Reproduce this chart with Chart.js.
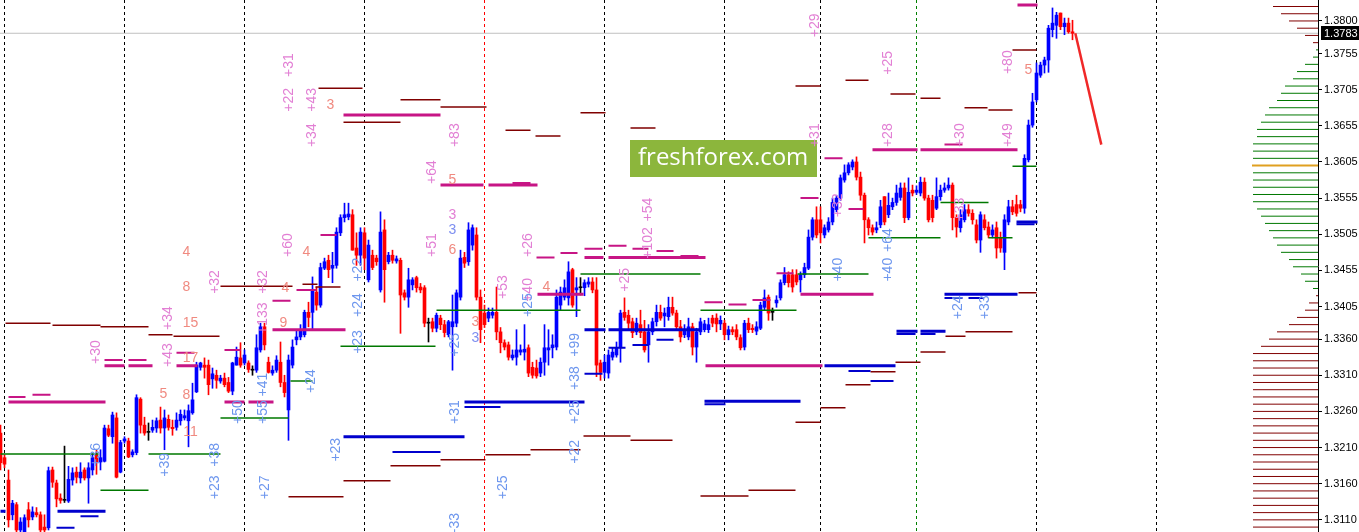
<!DOCTYPE html>
<html><head><meta charset="utf-8">
<script src="https://cdn.jsdelivr.net/npm/chart.js@4.4.1/dist/chart.umd.min.js"></script>
<style>html,body{margin:0;padding:0;background:#fff;overflow:hidden}#wrap{width:1359px;height:532px;position:relative}</style>
</head><body><div id="wrap"><canvas id="c" width="1359" height="532"></canvas></div>
<script>
// ---------- DATA ----------
const candleOpen = [
1.3230,1.3196,1.3165,1.3117,1.3131,1.3096,1.3093,1.3124,1.3114,1.3120,
1.3117,1.3100,1.3099,1.3179,1.3161,1.3140,1.3137,1.3136,1.3165,1.3176,
1.3168,1.3179,1.3168,1.3179,1.3200,1.3190,1.3191,1.3236,1.3225,1.3251,
1.3176,1.3219,1.3219,1.3200,1.3203,1.3277,1.3241,1.3231,1.3234,1.3237,
1.3248,1.3237,1.3249,1.3238,1.3238,1.3247,1.3251,1.3247,1.3258,1.3287,
1.3321,1.3324,1.3324,1.3305,1.3310,1.3302,1.3306,1.3300,1.3288,1.3324,
1.3334,1.3327,1.3327,1.3317,1.3317,1.3345,1.3377,1.3328,1.3313,1.3317,
1.3328,1.3300,1.3262,1.3324,1.3359,1.3363,1.3366,1.3397,1.3397,1.3425,
1.3407,1.3458,1.3469,1.3458,1.3462,1.3507,1.3528,1.3529,1.3532,1.3486,
1.3476,1.3507,1.3442,1.3476,1.3472,1.3428,1.3511,1.3467,1.3476,1.3468,
1.3469,1.3424,1.3418,1.3435,1.3445,1.3432,1.3431,1.3382,1.3384,1.3375,
1.3389,1.3380,1.3366,1.3377,1.3382,1.3418,1.3473,1.3467,1.3490,1.3504,
1.3418,1.3396,1.3389,1.3393,1.3397,1.3370,1.3355,1.3352,1.3334,1.3335,
1.3342,1.3342,1.3348,1.3321,1.3320,1.3313,1.3328,1.3345,1.3348,1.3349,
1.3407,1.3418,1.3417,1.3456,1.3428,1.3431,1.3431,1.3436,1.3439,1.3428,
1.3327,1.3314,1.3313,1.3335,1.3338,1.3348,1.3397,1.3393,1.3384,1.3370,
1.3380,1.3370,1.3352,1.3370,1.3384,1.3397,1.3392,1.3391,1.3404,1.3396,
1.3377,1.3366,1.3363,1.3377,1.3349,1.3370,1.3373,1.3373,1.3389,1.3389,
1.3381,1.3382,1.3366,1.3373,1.3373,1.3362,1.3349,1.3382,1.3375,1.3371,
1.3375,1.3404,1.3418,1.3397,1.3410,1.3417,1.3438,1.3449,1.3449,1.3449,
1.3442,1.3449,1.3458,1.3501,1.3525,1.3525,1.3504,1.3511,1.3522,1.3539,
1.3555,1.3580,1.3590,1.3598,1.3605,1.3584,1.3559,1.3525,1.3514,1.3511,
1.3518,1.3557,1.3532,1.3543,1.3549,1.3556,1.3569,1.3528,1.3566,1.3563,
1.3562,1.3577,1.3555,1.3552,1.3541,1.3557,1.3566,1.3569,1.3573,1.3528,
1.3514,1.3525,1.3539,1.3534,1.3518,1.3497,1.3525,1.3515,1.3504,1.3514,
1.3500,1.3480,1.3522,1.3543,1.3546,1.3546,1.3541,1.3608,1.3656,1.3691,
1.3725,1.3739,1.3746,1.3788,1.3794,1.3811,1.3792,1.3797,1.3785];
const candleHigh = [
1.3241,1.3200,1.3179,1.3137,1.3134,1.3113,1.3117,1.3134,1.3128,1.3127,
1.3121,1.3117,1.3183,1.3183,1.3165,1.3146,1.3212,1.3184,1.3182,1.3183,
1.3189,1.3182,1.3189,1.3201,1.3207,1.3207,1.3241,1.3241,1.3259,1.3258,
1.3220,1.3225,1.3223,1.3207,1.3283,1.3279,1.3252,1.3244,1.3248,1.3251,
1.3266,1.3262,1.3255,1.3248,1.3258,1.3262,1.3262,1.3269,1.3299,1.3328,
1.3328,1.3334,1.3331,1.3320,1.3317,1.3310,1.3313,1.3307,1.3328,1.3349,
1.3355,1.3345,1.3330,1.3323,1.3366,1.3382,1.3382,1.3335,1.3323,1.3337,
1.3356,1.3310,1.3338,1.3359,1.3373,1.3380,1.3400,1.3411,1.3446,1.3432,
1.3465,1.3472,1.3476,1.3480,1.3514,1.3532,1.3548,1.3548,1.3539,1.3507,
1.3514,1.3514,1.3497,1.3483,1.3476,1.3536,1.3525,1.3480,1.3483,1.3475,
1.3472,1.3428,1.3458,1.3445,1.3447,1.3437,1.3434,1.3389,1.3389,1.3396,
1.3393,1.3386,1.3386,1.3421,1.3428,1.3483,1.3480,1.3521,1.3518,1.3514,
1.3428,1.3407,1.3403,1.3403,1.3432,1.3376,1.3359,1.3356,1.3345,1.3373,
1.3352,1.3380,1.3352,1.3328,1.3331,1.3334,1.3380,1.3373,1.3366,1.3428,
1.3432,1.3442,1.3467,1.3458,1.3445,1.3445,1.3442,1.3445,1.3445,1.3445,
1.3331,1.3338,1.3345,1.3348,1.3356,1.3400,1.3417,1.3400,1.3389,1.3389,
1.3400,1.3386,1.3380,1.3389,1.3407,1.3407,1.3403,1.3418,1.3418,1.3400,
1.3386,1.3380,1.3389,1.3382,1.3375,1.3389,1.3386,1.3389,1.3393,1.3395,
1.3392,1.3386,1.3378,1.3377,1.3380,1.3366,1.3386,1.3389,1.3380,1.3384,
1.3411,1.3428,1.3421,1.3403,1.3420,1.3442,1.3459,1.3453,1.3456,1.3456,
1.3453,1.3465,1.3511,1.3528,1.3543,1.3543,1.3518,1.3528,1.3555,1.3559,
1.3587,1.3601,1.3604,1.3608,1.3612,1.3591,1.3562,1.3528,1.3518,1.3522,
1.3552,1.3557,1.3562,1.3555,1.3573,1.3576,1.3576,1.3583,1.3573,1.3572,
1.3584,1.3583,1.3559,1.3559,1.3583,1.3573,1.3576,1.3583,1.3576,1.3532,
1.3539,1.3546,1.3546,1.3539,1.3525,1.3536,1.3532,1.3522,1.3518,1.3522,
1.3508,1.3532,1.3552,1.3552,1.3559,1.3552,1.3615,1.3663,1.3700,1.3742,
1.3743,1.3750,1.3794,1.3818,1.3812,1.3811,1.3804,1.3804,1.3801];
const candleLow = [
1.3179,1.3182,1.3100,1.3110,1.3093,1.3093,1.3093,1.3100,1.3110,1.3114,
1.3093,1.3093,1.3096,1.3155,1.3128,1.3133,1.3134,1.3134,1.3158,1.3161,
1.3161,1.3165,1.3133,1.3172,1.3173,1.3179,1.3190,1.3225,1.3216,1.3168,
1.3175,1.3216,1.3196,1.3197,1.3200,1.3230,1.3227,1.3220,1.3231,1.3231,
1.3230,1.3207,1.3234,1.3227,1.3234,1.3241,1.3248,1.3211,1.3256,1.3286,
1.3317,1.3306,1.3283,1.3292,1.3292,1.3299,1.3294,1.3286,1.3283,1.3324,
1.3321,1.3324,1.3314,1.3310,1.3314,1.3342,1.3345,1.3313,1.3310,1.3314,
1.3294,1.3280,1.3220,1.3320,1.3352,1.3359,1.3363,1.3377,1.3373,1.3400,
1.3404,1.3456,1.3445,1.3438,1.3458,1.3503,1.3522,1.3525,1.3483,1.3462,
1.3462,1.3456,1.3439,1.3456,1.3462,1.3425,1.3411,1.3464,1.3465,1.3465,
1.3368,1.3414,1.3404,1.3428,1.3425,1.3424,1.3377,1.3356,1.3370,1.3370,
1.3373,1.3363,1.3363,1.3317,1.3377,1.3414,1.3459,1.3462,1.3483,1.3414,
1.3355,1.3376,1.3384,1.3389,1.3359,1.3341,1.3345,1.3331,1.3331,1.3324,
1.3338,1.3331,1.3308,1.3306,1.3306,1.3308,1.3310,1.3324,1.3334,1.3345,
1.3400,1.3414,1.3407,1.3404,1.3391,1.3421,1.3420,1.3432,1.3424,1.3308,
1.3303,1.3306,1.3306,1.3331,1.3335,1.3328,1.3386,1.3373,1.3362,1.3366,
1.3362,1.3342,1.3328,1.3366,1.3378,1.3386,1.3377,1.3386,1.3393,1.3373,
1.3356,1.3362,1.3359,1.3338,1.3328,1.3366,1.3370,1.3369,1.3377,1.3370,
1.3373,1.3359,1.3359,1.3366,1.3359,1.3345,1.3345,1.3369,1.3369,1.3366,
1.3373,1.3400,1.3386,1.3386,1.3404,1.3414,1.3435,1.3432,1.3425,1.3435,
1.3425,1.3445,1.3456,1.3497,1.3500,1.3493,1.3500,1.3508,1.3518,1.3536,
1.3552,1.3577,1.3587,1.3594,1.3580,1.3552,1.3493,1.3504,1.3504,1.3507,
1.3514,1.3518,1.3528,1.3539,1.3545,1.3552,1.3521,1.3525,1.3558,1.3560,
1.3558,1.3552,1.3522,1.3522,1.3539,1.3552,1.3563,1.3566,1.3511,1.3501,
1.3508,1.3522,1.3530,1.3519,1.3493,1.3480,1.3511,1.3500,1.3500,1.3472,
1.3480,1.3456,1.3518,1.3532,1.3530,1.3536,1.3534,1.3605,1.3653,1.3688,
1.3722,1.3728,1.3729,1.3778,1.3776,1.3788,1.3781,1.3783,1.3774];
const candleClose = [
1.3189,1.3187,1.3110,1.3133,1.3096,1.3107,1.3113,1.3110,1.3121,1.3117,
1.3096,1.3096,1.3178,1.3162,1.3139,1.3137,1.3137,1.3166,1.3175,1.3169,
1.3176,1.3168,1.3182,1.3196,1.3190,1.3196,1.3237,1.3227,1.3255,1.3169,
1.3217,1.3222,1.3197,1.3204,1.3279,1.3241,1.3230,1.3231,1.3238,1.3247,
1.3237,1.3251,1.3238,1.3236,1.3248,1.3256,1.3254,1.3261,1.3276,1.3324,
1.3327,1.3321,1.3297,1.3312,1.3303,1.3306,1.3297,1.3288,1.3327,1.3335,
1.3324,1.3338,1.3318,1.3317,1.3348,1.3377,1.3352,1.3314,1.3317,1.3331,
1.3300,1.3286,1.3331,1.3349,1.3363,1.3373,1.3397,1.3390,1.3428,1.3407,
1.3459,1.3467,1.3456,1.3462,1.3508,1.3528,1.3532,1.3533,1.3483,1.3476,
1.3508,1.3472,1.3490,1.3459,1.3467,1.3508,1.3456,1.3476,1.3469,1.3471,
1.3421,1.3418,1.3442,1.3442,1.3431,1.3428,1.3382,1.3382,1.3375,1.3393,
1.3380,1.3369,1.3384,1.3384,1.3424,1.3472,1.3465,1.3511,1.3514,1.3418,
1.3373,1.3380,1.3397,1.3397,1.3370,1.3355,1.3349,1.3335,1.3338,1.3345,
1.3345,1.3346,1.3313,1.3310,1.3309,1.3328,1.3348,1.3348,1.3352,1.3418,
1.3425,1.3431,1.3453,1.3407,1.3431,1.3431,1.3438,1.3439,1.3428,1.3324,
1.3314,1.3328,1.3338,1.3342,1.3348,1.3396,1.3390,1.3382,1.3369,1.3382,
1.3369,1.3345,1.3370,1.3384,1.3397,1.3389,1.3396,1.3404,1.3396,1.3377,
1.3363,1.3373,1.3377,1.3349,1.3370,1.3384,1.3381,1.3380,1.3382,1.3381,
1.3386,1.3366,1.3373,1.3370,1.3363,1.3348,1.3382,1.3373,1.3373,1.3377,
1.3407,1.3417,1.3396,1.3397,1.3414,1.3438,1.3449,1.3438,1.3432,1.3439,
1.3449,1.3459,1.3501,1.3525,1.3504,1.3507,1.3514,1.3522,1.3549,1.3555,
1.3583,1.3590,1.3601,1.3605,1.3584,1.3559,1.3525,1.3514,1.3508,1.3514,
1.3543,1.3522,1.3545,1.3549,1.3562,1.3569,1.3528,1.3563,1.3562,1.3566,
1.3577,1.3555,1.3525,1.3528,1.3557,1.3566,1.3569,1.3573,1.3528,1.3515,
1.3532,1.3539,1.3534,1.3525,1.3497,1.3532,1.3514,1.3504,1.3511,1.3486,
1.3486,1.3525,1.3543,1.3536,1.3534,1.3541,1.3610,1.3656,1.3688,1.3728,
1.3739,1.3746,1.3790,1.3797,1.3808,1.3792,1.3797,1.3785,1.3783];

const priceTicks = [1.3800,1.3755,1.3705,1.3655,1.3605,1.3555,1.3505,1.3455,1.3405,1.3360,1.3310,1.3260,1.3210,1.3160,1.3110];
const currentPrice = 1.3783;

// level lines: start bar, end bar, price
const magentaThickStart = [2,26,32,44,56,62,68,85.75,110,122,134.25,146,152,176.25,200,218,230,254.25];
const magentaThickEnd   = [26.25,31,38,49.25,61,68.25,86.25,110,120.75,134.25,145.75,150.75,176.25,205.5,218.25,229.25,254.25,259.25];
const magentaThickPrice = [1.3273,1.3323,1.3323,1.3323,1.3273,1.3273,1.3373,1.3670,1.3573,1.3573,1.3422,1.3473,1.3473,1.3323,1.3422,1.3622,1.3622,1.3822];

const magentaThinStart = [2,8,26,32,44,56,68,74,80,128,134,140,146,152,158,164,170,176,182,188,194,200,206,212,236];
const magentaThinEnd   = [6.25,12.5,30.5,36.5,48.5,60,72.5,79,84,132.5,138.5,144.25,150.5,156.5,162,168.25,174.5,180.5,186.5,192.5,198.25,204.5,210.5,215.75,240.5];
const magentaThinPrice = [1.3280,1.3283,1.3331,1.3331,1.3341,1.3345,1.3413,1.3428,1.3504,1.3576,1.3473,1.3479,1.3485,1.3489,1.3485,1.3482,1.3475,1.3411,1.3408,1.3414,1.3451,1.3555,1.3610,1.3540,1.3629];

const darkRedStart = [1.25,13,25,37,43.25,55,75.5,78.75,79.5,85.75,100,110,126.25,133.75,145,157.5,198.75,211.25,222.5,230,241,247,253,72,85.75,97.5,110,121.25,132.5,145.75,157.5,175,187,198.75,205,211.25,217.5,223.75,230,236.25,241.25,254.5];
const darkRedEnd   = [12.5,25,37,43,54.75,73,79.25,85,90.5,100,110,121.5,132.5,140,151.25,163.75,205,217,228.75,235,246.75,253,259,85.75,97.5,110,121.25,132.5,145,157.5,168,187,198.75,205,211.25,217.5,223.75,230,236.25,241.25,253,259];
const darkRedPrice = [1.3382,1.3379,1.3377,1.3366,1.3364,1.3433,1.3436,1.3432,1.3707,1.3660,1.3691,1.3681,1.3649,1.3641,1.3673,1.3652,1.3710,1.3718,1.3699,1.3693,1.3680,1.3677,1.3760,1.3142,1.3164,1.3185,1.3193,1.3200,1.3207,1.3226,1.3220,1.3143,1.3151,1.3245,1.3265,1.3297,1.3315,1.3328,1.3342,1.3364,1.3370,1.3424];

const greenStart = [0,25,37,55,72.5,85,109,145,175,199.25,217,235,247,253];
const greenEnd   = [24.5,37,55,72,78,108.75,145,175,199,217,235,247,253,259];
const greenPrice = [1.3201,1.3151,1.3201,1.3251,1.3302,1.3350,1.3400,1.3450,1.3400,1.3450,1.3500,1.3549,1.3500,1.3599];

const blueThickStart = [0,14.25,85.75,116,146,152,176,206,224,230,236,254];
const blueThickEnd   = [1.25,26.25,116,146,151.25,175,200,223.75,229.25,236.25,254.25,259.25];
const blueThickPrice = [1.3122,1.3122,1.3225,1.3273,1.3373,1.3373,1.3274,1.3323,1.3371,1.3371,1.3422,1.3522];

const blueThinStart = [20,14,98,116,146,152,158,164,176,212,217.5,224,230,236,242,254];
const blueThinEnd   = [24.5,18.5,110,125,150.5,156.25,162,168.25,181.25,217.5,223.25,228.75,233.75,240.5,245.75,258.5];
const blueThinPrice = [1.3115,1.3099,1.3204,1.3266,1.3312,1.3348,1.3352,1.3359,1.3270,1.3316,1.3302,1.3367,1.3367,1.3417,1.3417,1.3519];

const separatorBars = [1,31,61,91,151,181,205,259,289];
const redSeparatorBars = [121];
const greenSeparatorBars = [229];

const forecastBars = [268.7,275.2];
const forecastPrices = [1.3783,1.3629];

// volume profile (price levels, volume units)
const profilePrices = [1.3830,1.3820,1.3810,1.3800,1.3790,1.3780,1.3770,1.3760,1.3750,1.3740,1.3730,1.3720,1.3710,1.3700,1.3690,1.3680,1.3670,1.3660,1.3650,1.3640,1.3630,1.3620,1.3610,1.3600,1.3590,1.3580,1.3570,1.3560,1.3550,1.3540,1.3530,1.3520,1.3510,1.3500,1.3490,1.3480,1.3470,1.3460,1.3450,1.3440,1.3430,1.3420,1.3410,1.3400,1.3390,1.3380,1.3370,1.3360,1.3350,1.3340,1.3330,1.3320,1.3310,1.3300,1.3290,1.3280,1.3270,1.3260,1.3250,1.3240,1.3230,1.3220,1.3210,1.3200,1.3190,1.3180,1.3170,1.3160,1.3150,1.3140,1.3130,1.3120,1.3110,1.3100];
const profileVolumes = [53,45,37,29,21,13,5,2,5,13,21,25,33,37,41,49,53,57,61,61,65,65,65,66,65,65,65,65,65,61,57,53,49,45,41,37,29,25,17,13,5,2,9,13,21,29,41,49,57,65,65,65,65,65,65,65,65,65,65,65,65,65,65,65,65,65,65,65,65,65,65,65,65,65];
const profileGroup = ['s','s','s','s','s','s','s','b','b','b','b','b','b','b','b','b','b','b','b','b','b','b','b','p','b','b','b','b','b','b','b','b','b','b','b','b','b','b','b','b','b','s','s','s','s','s','s','s','s','s','s','s','s','s','s','s','s','s','s','s','s','s','s','s','s','s','s','s','s','s','s','s','s','s'];

// annotation texts
const pinkLabelText  = ['+31','+22','+43','+34','+83','+64','+51','+26','+54','+102','+25','+53','+40','+32','+32','+60','+133','+34','+43','+30','+29','+25','+28','+30','+49','+80','+31','+32','+33'];
const pinkLabelBar   = [72.25,72.25,78,78,113.75,108,108,132,162,162,156.25,125.75,132,53.75,65.75,72,65.75,42,42,24,203.75,222,222,240,252,252,203.75,209.5,240];
const pinkLabelPrice = [1.3739,1.3691,1.3691,1.3642,1.3642,1.3591,1.3490,1.3490,1.3539,1.3493,1.3442,1.3432,1.3428,1.3439,1.3439,1.3490,1.3389,1.3389,1.3338,1.3342,1.3794,1.3742,1.3642,1.3642,1.3642,1.3743,1.3642,1.3545,1.3539];

const blueLabelText  = ['+39','+38','+23','+27','+55','+41','+50','+24','+23','+23','+24','+22','+25','+31','+33','+25','+22','+25','+38','+99','+25','+40','+40','+64','+24','+33','+36'];
const blueLabelBar   = [41.25,53.75,53.75,66.25,65.75,65.75,59.5,77.75,84,89.5,89.5,89.5,113.75,113.75,113.75,125.75,143.75,143.75,143.75,143.75,132,209.5,222,222,239.5,246.25,24];
const blueLabelPrice = [1.3186,1.3200,1.3155,1.3155,1.3259,1.3297,1.3259,1.3302,1.3207,1.3356,1.3407,1.3456,1.3352,1.3259,1.3103,1.3155,1.3204,1.3259,1.3306,1.3352,1.3407,1.3456,1.3456,1.3497,1.3404,1.3404,1.3200];

const countText  = ['4','8','15','17','5','8','11','9','4','4','3','5','6','3','4','5'];
const countBar   = [46.5,46.5,47.5,47.5,40.75,46.5,47.5,70.75,76.5,71.25,82.5,113,113,118.75,136.5,257];
const countPrice = [1.3480,1.3432,1.3382,1.3334,1.3284,1.3283,1.3232,1.3382,1.3480,1.3431,1.3684,1.3580,1.3483,1.3384,1.3432,1.3732];
const smallPinkText = ['3'];  const smallPinkBar = [113];    const smallPinkPrice = [1.3532];
const smallBlueText = ['3','3']; const smallBlueBar = [113,118.75]; const smallBluePrice = [1.3511,1.3362];

// ---------- BUILD ----------
const UP = '#0000ff', DOWN = '#ff0000', FLAT = '#000000';
const candleColor = candleOpen.map((o,i)=> candleClose[i]>o ? UP : (candleClose[i]<o ? DOWN : FLAT));
const wickData = candleOpen.map((o,i)=>({x:i, y:[Math.min(candleLow[i],o,candleClose[i]), Math.max(candleHigh[i],o,candleClose[i])]}));
const bodyData = candleOpen.map((o,i)=>({x:i, y:[Math.min(o,candleClose[i]), Math.max(o,candleClose[i])]}));

function segs(starts, ends, prices){
  const d=[];
  for(let k=0;k<starts.length;k++){ d.push({x:starts[k],y:prices[k]},{x:ends[k],y:prices[k]},{x:ends[k],y:null}); }
  return d;
}
const Y_MAX = 1.3829, Y_MIN = 1.30932;
function vsegs(bars){
  const d=[];
  bars.forEach(b=>{ d.push({x:b,y:Y_MAX},{x:b,y:Y_MIN},{x:b,y:null}); });
  return d;
}
function profileSegs(group){
  const d=[];
  profilePrices.forEach((p,k)=>{ if(profileGroup[k]===group){ d.push({x:0,y:p},{x:profileVolumes[k],y:p},{x:0,y:null}); } });
  return d;
}
function lineDS(data, color, width, order, extra){
  return Object.assign({type:'line', data, borderColor:color, borderWidth:width, pointRadius:0, pointHoverRadius:0, spanGaps:false, fill:false, tension:0, order, borderCapStyle:'butt'}, extra||{});
}

const datasets = [
  lineDS(profileSegs('s'), '#800000', 1, 20, {xAxisID:'xv'}),
  lineDS(profileSegs('b'), '#007800', 1, 20, {xAxisID:'xv'}),
  lineDS(profileSegs('p'), '#e0a020', 2, 20, {xAxisID:'xv'}),
  lineDS(vsegs(separatorBars), '#000000', 1, 15, {borderDash:[3,3]}),
  lineDS(vsegs(redSeparatorBars), '#ff0000', 1, 15, {borderDash:[3,3]}),
  lineDS(vsegs(greenSeparatorBars), '#008000', 1, 15, {borderDash:[3,3]}),
  lineDS([{x:-1,y:currentPrice},{x:330,y:currentPrice}], '#c0c0c0', 1, 14),
  {type:'bar', data:wickData, backgroundColor:candleColor, barThickness:1, grouped:false, order:10, borderWidth:0},
  {type:'bar', data:bodyData, backgroundColor:candleColor, barThickness:3, minBarLength:1, grouped:false, order:9, borderWidth:0},
  lineDS(segs(darkRedStart,darkRedEnd,darkRedPrice), '#800000', 1.5, 5),
  lineDS(segs(greenStart,greenEnd,greenPrice), '#007800', 1.5, 5),
  lineDS(segs(magentaThinStart,magentaThinEnd,magentaThinPrice), '#c71585', 2, 4),
  lineDS(segs(magentaThickStart,magentaThickEnd,magentaThickPrice), '#c71585', 3, 3),
  lineDS(segs(blueThinStart,blueThinEnd,blueThinPrice), '#0000cd', 2, 4),
  lineDS(segs(blueThickStart,blueThickEnd,blueThickPrice), '#0000cd', 3, 3),
  lineDS(forecastBars.map((b,k)=>({x:b,y:forecastPrices[k]})), '#f02828', 2.5, 2)
];

const overlay = {
  id:'overlay',
  afterDatasetsDraw(chart){
    const {ctx, chartArea:ca, scales} = chart; const xs=scales.x, ys=scales.y;
    ctx.save();
    ctx.beginPath(); ctx.rect(ca.left, ca.top, ca.right-ca.left, ca.bottom-ca.top); ctx.clip();
    // watermark banner
    ctx.fillStyle = '#8cb63c';
    ctx.fillRect(ca.left+630, ca.top+140, 187, 37);
    ctx.fillStyle = '#ffffff'; ctx.font = "24px 'Open Sans'"; ctx.textAlign='left'; ctx.textBaseline='middle';
    ctx.fillText('freshforex.com', ca.left+638, ca.top+158);
    function draw(texts, bars, prices, color, vertical, font){
      ctx.fillStyle=color; ctx.font=font; ctx.textAlign='center'; ctx.textBaseline='middle';
      texts.forEach((t,k)=>{
        const px=xs.getPixelForValue(bars[k]), py=ys.getPixelForValue(prices[k]);
        if(vertical){ ctx.save(); ctx.translate(px,py); ctx.rotate(-Math.PI/2); ctx.fillText(t,0,0); ctx.restore(); }
        else ctx.fillText(t,px,py);
      });
    }
    const f = "14px 'Liberation Sans'";
    draw(pinkLabelText, pinkLabelBar, pinkLabelPrice, '#e27fd4', true, f);
    draw(blueLabelText, blueLabelBar, blueLabelPrice, '#6d96ee', true, f);
    draw(countText, countBar, countPrice, '#f08a80', false, f);
    draw(smallPinkText, smallPinkBar, smallPinkPrice, '#e27fd4', false, f);
    draw(smallBlueText, smallBlueBar, smallBluePrice, '#7d8ef0', false, f);
    ctx.restore();
  },
  afterDraw(chart){
    const {ctx, chartArea:ca, scales} = chart; const ys=scales.y;
    const py = Math.round(ys.getPixelForValue(currentPrice));
    ctx.save();
    ctx.fillStyle='#000'; ctx.fillRect(ca.right+3, py-7, 41, 14);
    ctx.fillStyle='#fff'; ctx.font="11px 'Liberation Sans'"; ctx.textAlign='left'; ctx.textBaseline='middle';
    ctx.fillText(currentPrice.toFixed(4), ca.right+6, py+0.5);
    ctx.restore();
  }
};

new Chart(document.getElementById('c'), {
  type:'bar',
  data:{datasets},
  plugins:[overlay],
  options:{
    responsive:false, animation:false, devicePixelRatio:1, events:[],
    layout:{padding:0},
    plugins:{legend:{display:false}, tooltip:{enabled:false}},
    scales:{
      x:{type:'linear', display:false, min:-0.125, max:329.375, offset:false, grid:{display:false}},
      xv:{type:'linear', display:false, min:0, max:1318, reverse:true, offset:false, grid:{display:false}},
      y:{type:'linear', position:'right', min:Y_MIN, max:Y_MAX, beginAtZero:false,
         afterBuildTicks:s=>{ s.ticks = priceTicks.map(v=>({value:v})); },
         afterFit:s=>{ s.width = 41; s.paddingTop = 0; s.paddingBottom = 0; },
         grid:{drawOnChartArea:false, drawTicks:true, tickLength:4, color:'#000', tickColor:'#000'},
         border:{display:true, color:'#000', width:1},
         ticks:{callback:v=>Number(v).toFixed(4), color:'#000', font:{family:'Liberation Sans', size:11}, padding:2, autoSkip:false, maxRotation:0, minRotation:0}
      }
    }
  }
});
</script></body></html>
